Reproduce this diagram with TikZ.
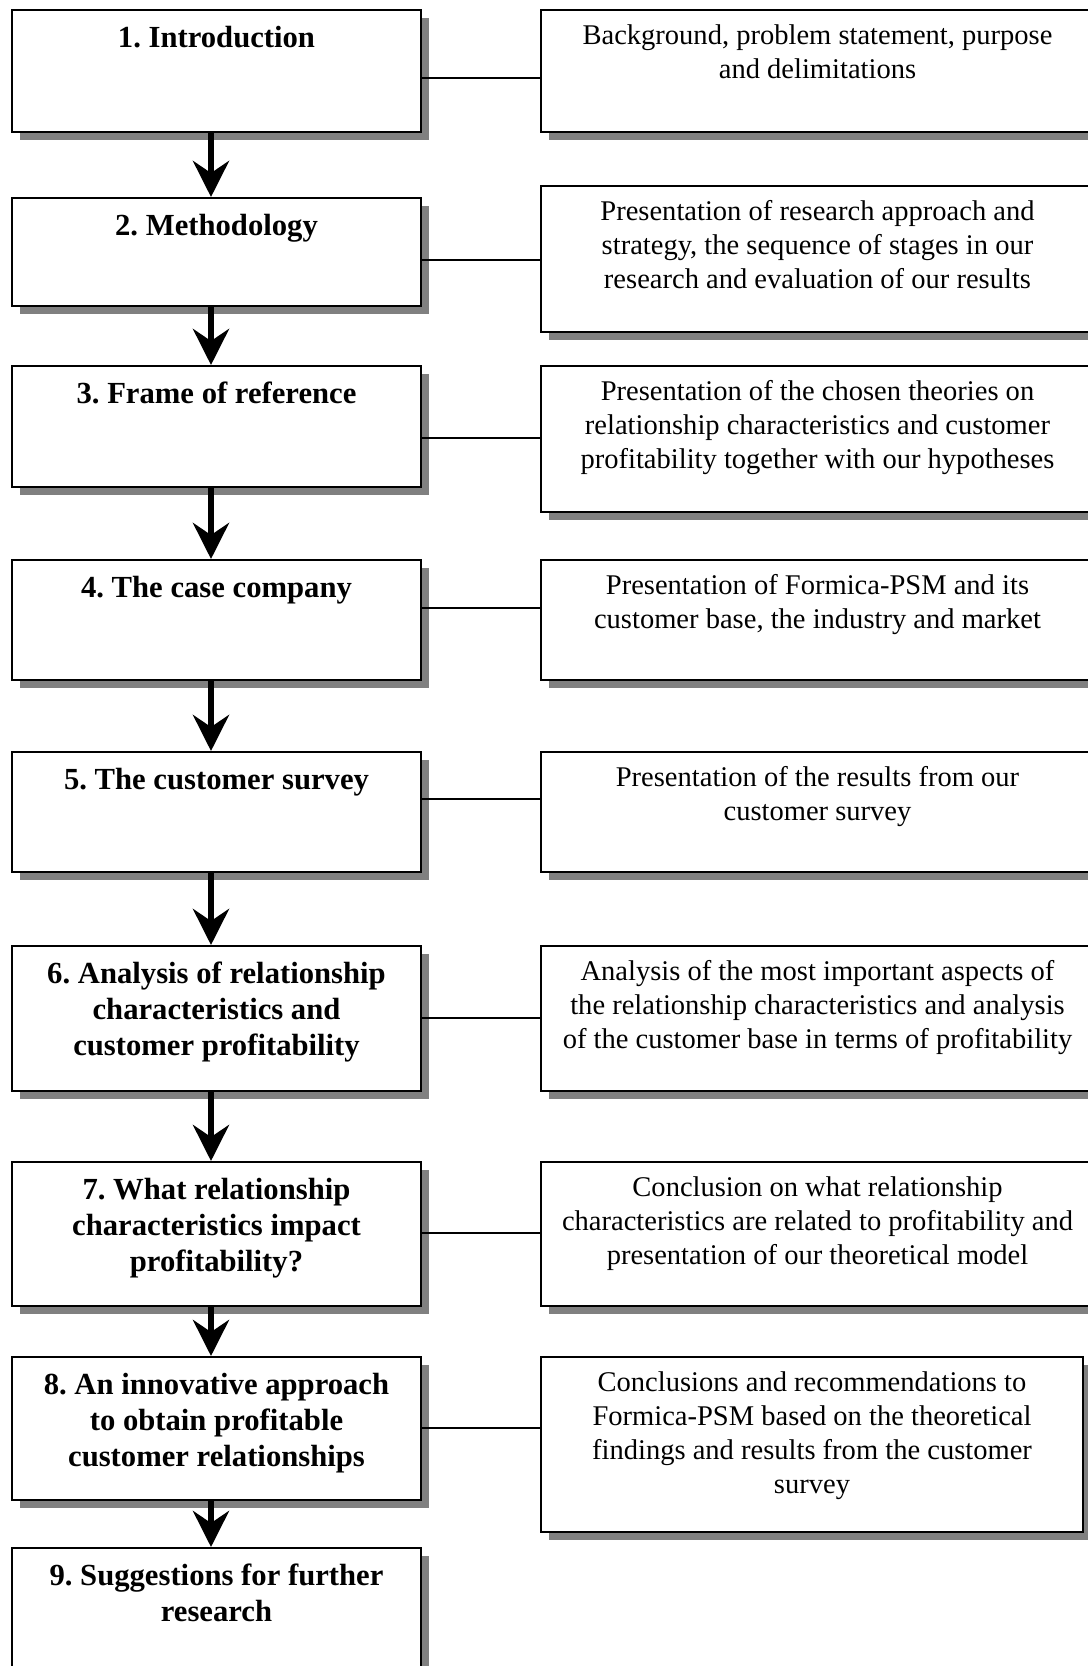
\documentclass[tikz,border=0pt]{standalone}
\usepackage{fontspec}
\setmainfont{Liberation Serif}
\usetikzlibrary{arrows.meta,shadows,calc}
\definecolor{shadowgray}{HTML}{808080}
\frenchspacing
\begin{document}
\begin{tikzpicture}[x=0.75pt,y=-0.75pt,
  box/.style={draw=black, line width=1.5pt, fill=white, rectangle, inner sep=0pt,
    drop shadow={shadow xshift=6pt, shadow yshift=-6pt, fill=shadowgray, opacity=1}},
  lbox/.style={box, minimum width=306.75pt},
  rbox/.style={box, minimum width=414.75pt},
  ltext/.style={anchor=north, inner sep=0pt, align=center, font=\bfseries\fontsize{23}{27}\selectfont},
  rtext/.style={anchor=north, inner sep=0pt, align=center, font=\fontsize{21.4}{25.5}\selectfont},
  link/.style={line width=1.5pt},
  flow/.style={line width=4.5pt, -{Stealth[length=27pt,width=27pt,inset=9pt]}}
]
\useasboundingbox (0,0) rectangle (1088,1666);
\clip (0,0) rectangle (1088,1666);
\coordinate (ax) at (211,0);

% left boxes
\node[lbox, minimum height=91.5pt]   (L1) at (216.5,71)    {};
\node[lbox, minimum height=81pt]     (L2) at (216.5,252)   {};
\node[lbox, minimum height=90.75pt]  (L3) at (216.5,426.5) {};
\node[lbox, minimum height=90pt]     (L4) at (216.5,620)   {};
\node[lbox, minimum height=90pt]     (L5) at (216.5,812)   {};
\node[lbox, minimum height=108.75pt] (L6) at (216.5,1018.5){};
\node[lbox, minimum height=108pt]    (L7) at (216.5,1234)  {};
\node[lbox, minimum height=107.25pt] (L8) at (216.5,1428.5){};
\node[lbox, minimum height=99pt]     (L9) at (216.5,1614)  {};

% right boxes
\node[rbox, minimum height=91.5pt]   (R1) at (817.5,71)    {};
\node[rbox, minimum height=109.5pt]  (R2) at (817.5,259)   {};
\node[rbox, minimum height=109.5pt]  (R3) at (817.5,439)   {};
\node[rbox, minimum height=90pt]     (R4) at (817.5,620)   {};
\node[rbox, minimum height=90pt]     (R5) at (817.5,812)   {};
\node[rbox, minimum height=108.75pt] (R6) at (817.5,1018.5){};
\node[rbox, minimum height=108pt]    (R7) at (817.5,1234)  {};
\node[box, minimum width=406.5pt, minimum height=131.25pt] (R8) at (812,1444.5) {};

% left titles
\node[ltext] (LT1) at ([yshift=-12.75pt]L1.north) {1. Introduction};
\node[ltext] (LT2) at ([yshift=-12.75pt]L2.north) {2. Methodology};
\node[ltext] (LT3) at ([yshift=-12.75pt]L3.north) {3. Frame of reference};
\node[ltext] (LT4) at ([yshift=-12.75pt]L4.north) {4. The case company};
\node[ltext] (LT5) at ([yshift=-12.75pt]L5.north) {5. The customer survey};
\node[ltext] (LT6) at ([yshift=-12.75pt]L6.north) {6. Analysis of relationship\\characteristics and\\customer profitability};
\node[ltext] (LT7) at ([yshift=-12.75pt]L7.north) {7. What relationship\\characteristics impact\\profitability?};
\node[ltext] (LT8) at ([yshift=-12.75pt]L8.north) {8. An innovative approach\\to obtain profitable\\customer relationships};
\node[ltext] (LT9) at ([yshift=-12.75pt]L9.north) {9. Suggestions for further\\research};

% right texts
\node[rtext] (RT1) at ([yshift=-11.25pt]R1.north) {Background, problem statement, purpose\\and delimitations};
\node[rtext] (RT2) at ([yshift=-11.25pt]R2.north) {Presentation of research approach and\\strategy, the sequence of stages in our\\research and evaluation of our results};
\node[rtext] (RT3) at ([yshift=-11.25pt]R3.north) {Presentation of the chosen theories on\\relationship characteristics and customer\\profitability together with our hypotheses};
\node[rtext] (RT4) at ([yshift=-11.25pt]R4.north) {Presentation of Formica-PSM and its\\customer base, the industry and market};
\node[rtext] (RT5) at ([yshift=-11.25pt]R5.north) {Presentation of the results from our\\customer survey};
\node[rtext] (RT6) at ([yshift=-11.25pt]R6.north) {Analysis of the most important aspects of\\the relationship characteristics and analysis\\of the customer base in terms of profitability};
\node[rtext] (RT7) at ([yshift=-11.25pt]R7.north) {Conclusion on what relationship\\characteristics are related to profitability and\\presentation of our theoretical model};
\node[rtext] (RT8) at ([yshift=-11.25pt]R8.north) {Conclusions and recommendations to\\Formica-PSM based on the theoretical\\findings and results from the customer\\survey};

% connectors
\draw[link] (L1.east |- 0,78)   -- (R1.west |- 0,78);
\draw[link] (L2.east |- 0,260)  -- (R2.west |- 0,260);
\draw[link] (L3.east |- 0,438)  -- (R3.west |- 0,438);
\draw[link] (L4.east |- 0,608)  -- (R4.west |- 0,608);
\draw[link] (L5.east |- 0,799)  -- (R5.west |- 0,799);
\draw[link] (L6.east |- 0,1018) -- (R6.west |- 0,1018);
\draw[link] (L7.east |- 0,1233) -- (R7.west |- 0,1233);
\draw[link] (L8.east |- 0,1428) -- (R8.west |- 0,1428);

% flow arrows
\draw[flow] (L1.south -| ax) -- (L2.north -| ax);
\draw[flow] (L2.south -| ax) -- (L3.north -| ax);
\draw[flow] (L3.south -| ax) -- (L4.north -| ax);
\draw[flow] (L4.south -| ax) -- (L5.north -| ax);
\draw[flow] (L5.south -| ax) -- (L6.north -| ax);
\draw[flow] (L6.south -| ax) -- (L7.north -| ax);
\draw[flow] (L7.south -| ax) -- (L8.north -| ax);
\draw[flow] (L8.south -| ax) -- (L9.north -| ax);
\end{tikzpicture}
\end{document}
